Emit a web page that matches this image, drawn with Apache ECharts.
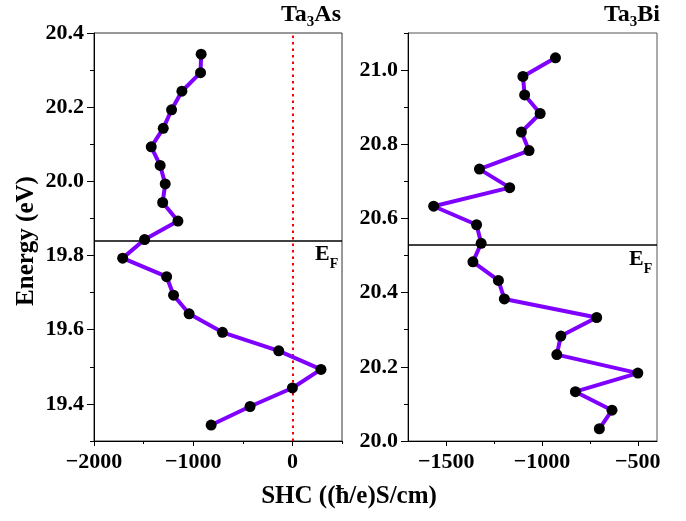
<!DOCTYPE html>
<html><head><meta charset="utf-8">
<script src="https://cdn.jsdelivr.net/npm/echarts@6/dist/echarts.min.js"></script>
<style>html,body{margin:0;padding:0;background:#fff}#c{width:686px;height:521px}</style>
</head><body><div id="c"></div>
<script>
// Ta3As panel
const energyAs = [20.343,20.293,20.243,20.193,20.143,20.093,20.043,19.993,19.943,19.893,19.843,19.793,19.743,19.693,19.643,19.593,19.543,19.493,19.443,19.393,19.343];
const shcAs = [-920,-926,-1114,-1218,-1302,-1423,-1333,-1282,-1308,-1154,-1490,-1711,-1268,-1198,-1041,-705,-138,288,0,-427,-819];
// Ta3Bi panel
const energyBi = [21.033,20.983,20.933,20.883,20.833,20.783,20.733,20.683,20.633,20.583,20.533,20.483,20.433,20.383,20.333,20.283,20.233,20.183,20.133,20.083,20.033];
const shcBi = [-930,-1100,-1091,-1010,-1108,-1068,-1327,-1169,-1566,-1342,-1318,-1361,-1228,-1197,-715,-902,-923,-500,-826,-635,-701];
const efAs = 19.843, efBi = 20.533;
const xTicksAs = [-2000,-1000,0], xMinorAs = [-1500,-500,500];
const yTicksAs = [19.4,19.6,19.8,20.0,20.2,20.4], yMinorAs = [19.3,19.5,19.7,19.9,20.1,20.3];
const xTicksBi = [-1500,-1000,-500], xMinorBi = [-1250,-750];
const yTicksBi = [20.0,20.2,20.4,20.6,20.8,21.0], yMinorBi = [20.1,20.3,20.5,20.7,20.9,21.1];

const FONT = 'Liberation Serif';
const chart = echarts.init(document.getElementById('c'), null, {renderer:'canvas'});
const lblStyle = {fontFamily: FONT, fontWeight: 'bold', fontSize: 22, color: '#000'};
const fmtX = v => v < 0 ? '\u2212' + (-v) : String(v);
const fmtY = v => Number(v).toFixed(1);

function mainX(gi, min, max, ticks) {
  return {type:'value', gridIndex: gi, min, max, position:'bottom',
    axisLine:{show:true, onZero:false, lineStyle:{color:'#000', width:1}},
    axisTick:{show:true, customValues: ticks, length:5, lineStyle:{color:'#000'}},
    axisLabel:Object.assign({customValues: ticks, formatter: fmtX, margin: 10}, lblStyle),
    splitLine:{show:false}};
}
function minorX(gi, min, max, ticks) {
  return {type:'value', gridIndex: gi, min, max, position:'bottom',
    axisLine:{show:false, onZero:false},
    axisTick:{show:true, customValues: ticks, length:3, lineStyle:{color:'#000'}},
    axisLabel:{show:false}, splitLine:{show:false}};
}
function mainY(gi, min, max, ticks, margin) {
  return {type:'value', gridIndex: gi, min, max, position:'left',
    axisLine:{show:true, onZero:false, lineStyle:{color:'#000', width:1}},
    axisTick:{show:true, customValues: ticks, length:7, lineStyle:{color:'#000'}},
    axisLabel:Object.assign({customValues: ticks, formatter: fmtY, margin}, lblStyle),
    splitLine:{show:false}};
}
function minorY(gi, min, max, ticks) {
  return {type:'value', gridIndex: gi, min, max, position:'left',
    axisLine:{show:false, onZero:false},
    axisTick:{show:true, customValues: ticks, length:4, lineStyle:{color:'#000'}},
    axisLabel:{show:false}, splitLine:{show:false}};
}
function dataSeries(xi, yi, xs, ys) {
  return {type:'line', xAxisIndex: xi, yAxisIndex: yi, z: 5,
    data: xs.map((v, i) => [v, ys[i]]),
    symbol:'circle', symbolSize: 11,
    itemStyle:{color:'#000', borderWidth:0},
    lineStyle:{color:'#7f00ff', width:4},
    animation:false};
}
function refSeries(xi, yi, marks) {
  return {type:'line', xAxisIndex: xi, yAxisIndex: yi, z: 2, data: [],
    markLine:{silent:true, symbol:'none', animation:false, label:{show:false}, data: marks}};
}
function sub(main, s, rest, mainSize, subSize, pad) {
  return {
    text: '{a|' + main + '}{s|' + s + '}{a|' + rest + '}',
    rich: {
      a: {fontFamily: FONT, fontWeight:'bold', fontSize: mainSize, lineHeight: mainSize, verticalAlign:'top', fill:'#000', color:'#000'},
      s: {fontFamily: FONT, fontWeight:'bold', fontSize: subSize, lineHeight: subSize, verticalAlign:'top', padding:[pad,0,0,0], fill:'#000', color:'#000'}
    }
  };
}
function rtext(x, y, align, content) {
  return {type:'text', x, y, z: 10,
    style: Object.assign({align, verticalAlign:'top', textAlign: align, textVerticalAlign:'top'}, content)};
}

chart.setOption({
  animation:false,
  backgroundColor:'#fff',
  grid:[
    {left:94, top:33, width:248, height:408, show:true, borderColor:'#333', borderWidth:1, backgroundColor:'transparent'},
    {left:408, top:33, width:249, height:408, show:true, borderColor:'#555', borderWidth:1, backgroundColor:'transparent'}
  ],
  xAxis:[
    mainX(0, -2000, 500, xTicksAs), minorX(0, -2000, 500, xMinorAs),
    mainX(1, -1700, -400, xTicksBi), minorX(1, -1700, -400, xMinorBi)
  ],
  yAxis:[
    mainY(0, 19.3, 20.4, yTicksAs, 10), minorY(0, 19.3, 20.4, yMinorAs),
    mainY(1, 20.0, 21.1, yTicksBi, 10), minorY(1, 20.0, 21.1, yMinorBi)
  ],
  series:[
    refSeries(0, 0, [
      {xAxis: 0, lineStyle:{color:'#ff0000', width:2, type:[2.5,4]}},
      {yAxis: efAs, lineStyle:{color:'#000', width:1.5, type:'solid'}}
    ]),
    refSeries(2, 2, [
      {yAxis: efBi, lineStyle:{color:'#000', width:1.5, type:'solid'}}
    ]),
    dataSeries(0, 0, shcAs, energyAs),
    dataSeries(2, 2, shcBi, energyBi)
  ],
  graphic:[
    rtext(341, 3, 'right', sub('Ta','3','As', 24, 15, 12)),
    rtext(660, 3, 'right', sub('Ta','3','Bi', 24, 15, 12)),
    rtext(315, 243, 'left', sub('E','F','', 22, 14, 14)),
    rtext(629, 248, 'left', sub('E','F','', 22, 14, 14)),
    {type:'text', x: 27, y: 241, rotation: Math.PI/2, z: 10,
      style:{text:'Energy (eV)', fontFamily: FONT, fontWeight:'bold', fontSize: 25, fill:'#000',
        align:'center', verticalAlign:'middle', textAlign:'center', textVerticalAlign:'middle'}},
    {type:'text', x: 349, y: 497, z: 10,
      style:{text:'SHC ((\u0127/e)S/cm)', fontFamily: FONT, fontWeight:'bold', fontSize: 25, fill:'#000',
        align:'center', verticalAlign:'middle', textAlign:'center', textVerticalAlign:'middle'}}
  ]
});
</script>
</body></html>
